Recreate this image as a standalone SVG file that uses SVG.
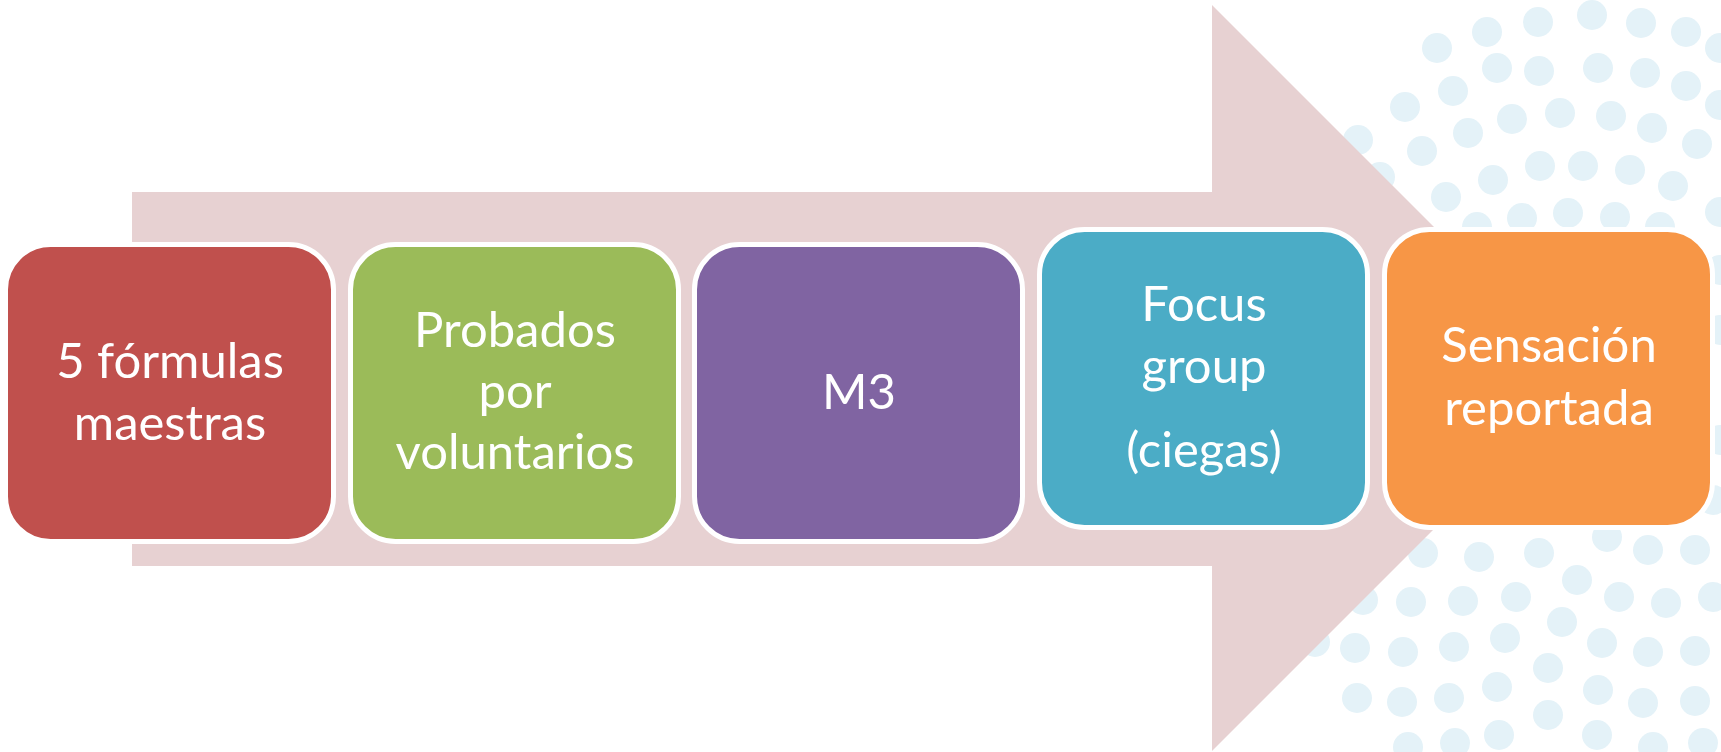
<svg xmlns="http://www.w3.org/2000/svg" width="1721" height="752" viewBox="0 0 1721 752">
<style>
.dot{fill:#E4F2F8}
.box{stroke:#FFFFFF;stroke-width:5}
.lbl{font-family:Lato,"Liberation Sans",sans-serif;font-size:49px;fill:#FFFFFF;text-anchor:middle}
</style>
<rect x="0" y="0" width="1721" height="752" fill="#FFFFFF"/>
<g id="dots">
<circle class="dot" cx="1437" cy="48" r="15"/><circle class="dot" cx="1487" cy="32" r="15"/><circle class="dot" cx="1538" cy="22" r="15"/><circle class="dot" cx="1592" cy="15" r="15"/><circle class="dot" cx="1641" cy="23" r="15"/><circle class="dot" cx="1686" cy="32" r="15"/><circle class="dot" cx="1720" cy="48" r="15"/>
<circle class="dot" cx="1497" cy="68" r="15"/><circle class="dot" cx="1539" cy="71" r="15"/><circle class="dot" cx="1598" cy="68" r="15"/><circle class="dot" cx="1645" cy="73" r="15"/><circle class="dot" cx="1686" cy="86" r="15"/><circle class="dot" cx="1720" cy="105" r="15"/>
<circle class="dot" cx="1453" cy="91" r="15"/><circle class="dot" cx="1405" cy="107" r="15"/><circle class="dot" cx="1512" cy="119" r="15"/><circle class="dot" cx="1560" cy="113" r="15"/><circle class="dot" cx="1611" cy="116" r="15"/><circle class="dot" cx="1652" cy="128" r="15"/><circle class="dot" cx="1697" cy="144" r="15"/>
<circle class="dot" cx="1468" cy="133" r="15"/><circle class="dot" cx="1422" cy="151" r="15"/><circle class="dot" cx="1358" cy="140" r="15"/><circle class="dot" cx="1540" cy="166" r="15"/><circle class="dot" cx="1583" cy="166" r="15"/><circle class="dot" cx="1630" cy="170" r="15"/><circle class="dot" cx="1673" cy="186" r="15"/><circle class="dot" cx="1720" cy="212" r="15"/>
<circle class="dot" cx="1380" cy="177" r="15"/><circle class="dot" cx="1493" cy="180" r="15"/><circle class="dot" cx="1446" cy="197" r="15"/><circle class="dot" cx="1522" cy="218" r="15"/><circle class="dot" cx="1568" cy="213" r="15"/><circle class="dot" cx="1615" cy="217" r="15"/><circle class="dot" cx="1660" cy="227" r="15"/><circle class="dot" cx="1477" cy="227" r="15"/>
<circle class="dot" cx="1720" cy="270" r="15"/><circle class="dot" cx="1720" cy="330" r="15"/><circle class="dot" cx="1720" cy="440" r="15"/><circle class="dot" cx="1713" cy="500" r="15"/>
<circle class="dot" cx="1423" cy="553" r="15"/><circle class="dot" cx="1479" cy="557" r="15"/><circle class="dot" cx="1539" cy="553" r="15"/><circle class="dot" cx="1607" cy="537" r="15"/><circle class="dot" cx="1648" cy="550" r="15"/><circle class="dot" cx="1695" cy="550" r="15"/>
<circle class="dot" cx="1363" cy="600" r="15"/><circle class="dot" cx="1411" cy="602" r="15"/><circle class="dot" cx="1463" cy="601" r="15"/><circle class="dot" cx="1516" cy="597" r="15"/><circle class="dot" cx="1577" cy="580" r="15"/><circle class="dot" cx="1619" cy="597" r="15"/><circle class="dot" cx="1666" cy="603" r="15"/><circle class="dot" cx="1713" cy="597" r="15"/>
<circle class="dot" cx="1315" cy="642" r="15"/><circle class="dot" cx="1355" cy="648" r="15"/><circle class="dot" cx="1403" cy="652" r="15"/><circle class="dot" cx="1454" cy="647" r="15"/><circle class="dot" cx="1505" cy="638" r="15"/><circle class="dot" cx="1562" cy="622" r="15"/><circle class="dot" cx="1602" cy="643" r="15"/><circle class="dot" cx="1648" cy="652" r="15"/><circle class="dot" cx="1695" cy="651" r="15"/>
<circle class="dot" cx="1357" cy="698" r="15"/><circle class="dot" cx="1402" cy="702" r="15"/><circle class="dot" cx="1449" cy="698" r="15"/><circle class="dot" cx="1497" cy="687" r="15"/><circle class="dot" cx="1548" cy="668" r="15"/><circle class="dot" cx="1598" cy="690" r="15"/><circle class="dot" cx="1643" cy="703" r="15"/><circle class="dot" cx="1695" cy="701" r="15"/>
<circle class="dot" cx="1408" cy="747" r="15"/><circle class="dot" cx="1455" cy="743" r="15"/><circle class="dot" cx="1499" cy="735" r="15"/><circle class="dot" cx="1548" cy="715" r="15"/><circle class="dot" cx="1597" cy="735" r="15"/><circle class="dot" cx="1653" cy="747" r="15"/><circle class="dot" cx="1703" cy="743" r="15"/>
</g>
<g id="connectors">
<path id="arrow" d="M132,192 H1212 V5 L1585,378 L1212,751 V566 H132 Z" fill="#E7D1D2"/>
</g>
<g id="node1">
<rect class="box" x="5.5" y="244.5" width="328" height="297" rx="45" fill="#C0504D"/>
<text class="lbl" x="170" y="378">5 fórmulas</text>
<text class="lbl" x="170" y="440">maestras</text>
</g>
<g id="node2">
<rect class="box" x="350.5" y="244.5" width="328" height="297" rx="45" fill="#9BBB59"/>
<text class="lbl" x="515" y="347">Probados</text>
<text class="lbl" x="515" y="408">por</text>
<text class="lbl" x="515" y="469">voluntarios</text>
</g>
<g id="node3">
<rect class="box" x="694.5" y="244.5" width="328" height="297" rx="45" fill="#8064A2"/>
<text class="lbl" x="859" y="409">M3</text>
</g>
<g id="node4">
<rect class="box" x="1039.5" y="229.5" width="328" height="298" rx="45" fill="#4BACC6"/>
<text class="lbl" x="1204" y="321">Focus</text>
<text class="lbl" x="1204" y="383">group</text>
<text class="lbl" x="1204" y="467">(ciegas)</text>
</g>
<g id="node5">
<rect class="box" x="1384.5" y="229.5" width="328" height="298" rx="45" fill="#F79646"/>
<text class="lbl" x="1549" y="362">Sensación</text>
<text class="lbl" x="1549" y="425">reportada</text>
</g>
</svg>
